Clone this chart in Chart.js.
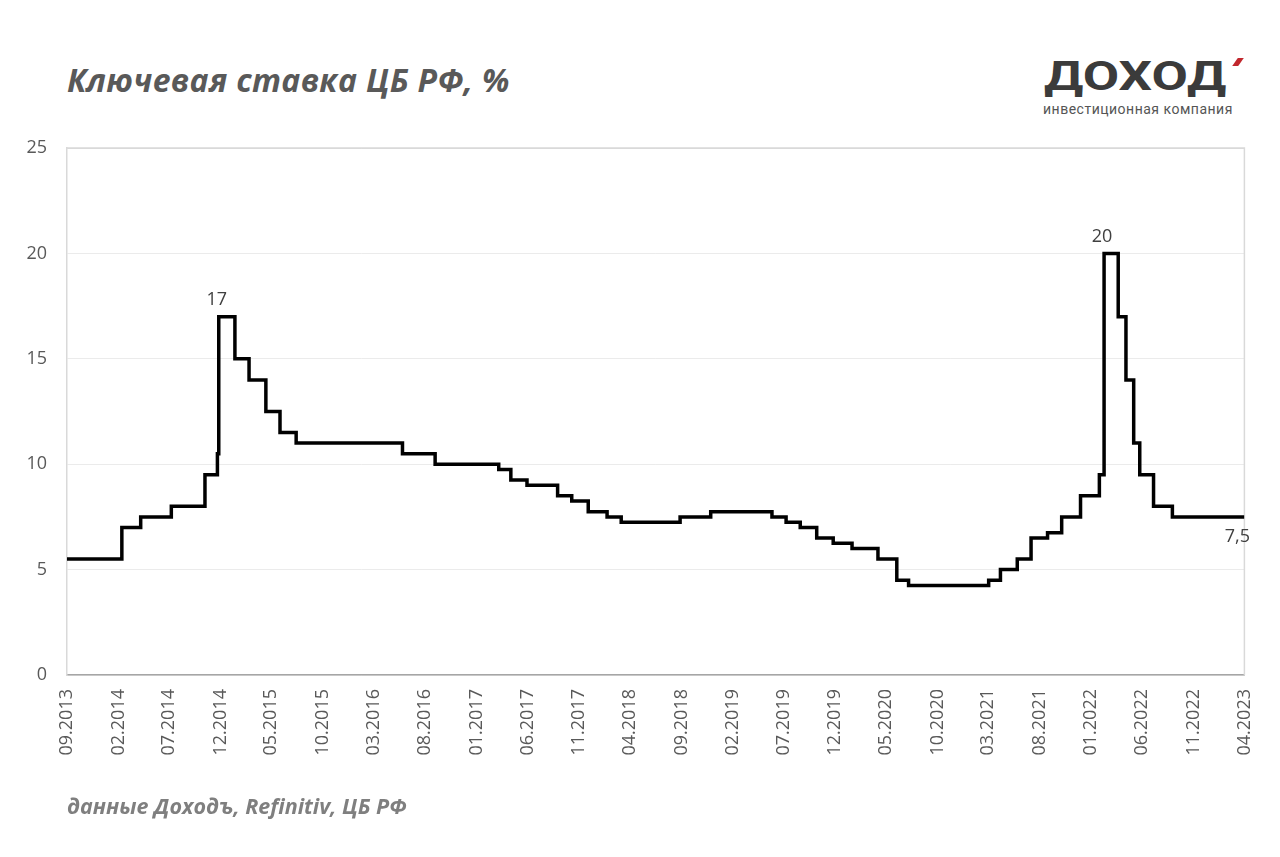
<!DOCTYPE html>
<html>
<head>
<meta charset="utf-8">
<script src="https://cdn.jsdelivr.net/npm/chart.js@4.4.0/dist/chart.umd.min.js"></script>
<style>
  body { margin: 0; background: #fff; width: 1280px; height: 857px; overflow: hidden; position: relative; }
  #chart { position: absolute; left: 0; top: 0; }
  .title { position: absolute; left: 67px; top: 58px; font: italic 700 32px 'Open Sans', sans-serif; color: #595959; white-space: nowrap; letter-spacing: 0.3px; }
  .source { position: absolute; left: 67px; top: 791px; font: italic 700 21.5px 'Open Sans', sans-serif; color: #7f7f7f; white-space: nowrap; }
  .logo { position: absolute; left: 1044px; top: 53px; font: 700 40px 'Roboto', sans-serif; color: #3b3b3b; white-space: nowrap; transform: scaleX(1.32); transform-origin: left top; }
  .logo-mark { position: absolute; left: 1235px; top: 58px; width: 6px; height: 8px; background: #c1272d; transform: skewX(-35deg); }
  .logo-sub { position: absolute; left: 1043px; top: 101px; font: 400 14px 'Roboto', sans-serif; color: #555; white-space: nowrap; letter-spacing: 0.5px; }
</style>
</head>
<body>
<div class="title">Ключевая ставка ЦБ РФ, %</div>
<div class="logo">ДОХОД</div>
<div class="logo-mark"></div>
<div class="logo-sub">инвестиционная компания</div>
<canvas id="chart" width="1280" height="857"></canvas>
<div class="source">данные Доходъ, Refinitiv, ЦБ РФ</div>
<script>
// Key rate decisions: date the new rate took effect and the rate, %
const rateDates = [
  '2013-09-13', '2014-03-03', '2014-04-28', '2014-07-28', '2014-11-05', '2014-12-12',
  '2014-12-16', '2015-02-02', '2015-03-16', '2015-05-05', '2015-06-16', '2015-08-03',
  '2016-06-14', '2016-09-19', '2017-03-27', '2017-05-02', '2017-06-19', '2017-09-18',
  '2017-10-30', '2017-12-18', '2018-02-12', '2018-03-26', '2018-09-17', '2018-12-17',
  '2019-06-17', '2019-07-29', '2019-09-09', '2019-10-28', '2019-12-16', '2020-02-10',
  '2020-04-27', '2020-06-22', '2020-07-27', '2021-03-22', '2021-04-26', '2021-06-15',
  '2021-07-26', '2021-09-13', '2021-10-25', '2021-12-20', '2022-02-14', '2022-02-28',
  '2022-04-11', '2022-05-04', '2022-05-27', '2022-06-14', '2022-07-25', '2022-09-19',
  '2023-04-21'
];
const rateValues = [
  5.5, 7, 7.5, 8, 9.5, 10.5,
  17, 15, 14, 12.5, 11.5, 11,
  10.5, 10, 9.75, 9.25, 9, 8.5,
  8.25, 7.75, 7.5, 7.25, 7.5, 7.75,
  7.5, 7.25, 7, 6.5, 6.25, 6,
  5.5, 4.5, 4.25, 4.5, 5, 5.5,
  6.5, 6.75, 7.5, 8.5, 9.5, 20,
  17, 14, 11, 9.5, 8, 7.5,
  7.5
];
const xLabels = [
  '09.2013', '02.2014', '07.2014', '12.2014', '05.2015', '10.2015', '03.2016', '08.2016',
  '01.2017', '06.2017', '11.2017', '04.2018', '09.2018', '02.2019', '07.2019', '12.2019',
  '05.2020', '10.2020', '03.2021', '08.2021', '01.2022', '06.2022', '11.2022', '04.2023'
];
const yTicks = [0, 5, 10, 15, 20, 25];
const annotated = [17, 20]; // peaks labelled above the line

const DAY = 86400000;
const TICK_DAY = 21; // axis labels sit on this day of the month
function toDay(s) {
  const [y, m, d] = s.split('-').map(Number);
  return Date.UTC(y, m - 1, d) / DAY;
}
const tickDays = xLabels.map(l => {
  const [m, y] = l.split('.').map(Number);
  return Date.UTC(y, m - 1, TICK_DAY) / DAY;
});

const points = rateDates.map((d, i) => ({ x: toDay(d), y: rateValues[i] }));

// light frame on top and right of plot area
const framePlugin = {
  id: 'frame',
  beforeDatasetsDraw(chart) {
    const { ctx, chartArea: a } = chart;
    ctx.save();
    ctx.strokeStyle = '#d9d9d9';
    ctx.lineWidth = 1.5;
    ctx.beginPath();
    ctx.moveTo(a.left, a.top);
    ctx.lineTo(a.right, a.top);
    ctx.lineTo(a.right, a.bottom);
    ctx.stroke();
    ctx.restore();
  }
};

// value labels for peaks and last point
const labelPlugin = {
  id: 'valueLabels',
  afterDatasetsDraw(chart) {
    const { ctx } = chart;
    const meta = chart.getDatasetMeta(0);
    ctx.save();
    ctx.font = '18px "Open Sans", sans-serif';
    ctx.fillStyle = '#404040';
    ctx.textAlign = 'center';
    annotated.forEach(v => {
      const i = rateValues.indexOf(v);
      const p = meta.data[i];
      ctx.textBaseline = 'bottom';
      ctx.fillText(String(v), p.x - 2, p.y - 8);
    });
    const last = meta.data[meta.data.length - 1];
    ctx.textBaseline = 'top';
    ctx.fillText(String(rateValues[rateValues.length - 1]).replace('.', ','), chart.chartArea.right - 7, last.y + 11);
    ctx.restore();
  }
};

const tickFont = { family: 'Open Sans', size: 18 };

new Chart(document.getElementById('chart').getContext('2d'), {
  type: 'line',
  data: {
    datasets: [{
      data: points,
      borderColor: '#000',
      borderWidth: 3.5,
      pointRadius: 0,
      stepped: true,
      fill: false
    }]
  },
  options: {
    responsive: false,
    animation: false,
    layout: { padding: { top: 148, right: 33, left: 0, bottom: 0 } },
    plugins: { legend: { display: false }, tooltip: { enabled: false } },
    scales: {
      x: {
        type: 'linear',
        min: tickDays[0],
        max: tickDays[tickDays.length - 1],
        afterBuildTicks: s => { s.ticks = tickDays.map(v => ({ value: v })); },
        ticks: {
          callback: (v, i) => xLabels[i],
          minRotation: 90,
          maxRotation: 90,
          autoSkip: false,
          padding: 14,
          color: '#595959',
          font: tickFont
        },
        grid: { display: false, drawTicks: false },
        border: { color: '#a6a6a6', width: 1.5 },
        afterFit: s => { s.height = 182; }
      },
      y: {
        min: 0,
        max: 25,
        afterBuildTicks: s => { s.ticks = yTicks.map(v => ({ value: v })); },
        ticks: { padding: 20, color: '#595959', font: tickFont },
        grid: { color: c => (c.tick && c.tick.value === 25 ? '#d9d9d9' : '#ebebeb'), drawTicks: false },
        border: { color: '#d9d9d9', width: 1.5 },
        afterFit: s => { s.width = 67; }
      }
    }
  },
  plugins: [framePlugin, labelPlugin]
});
</script>
</body>
</html>
